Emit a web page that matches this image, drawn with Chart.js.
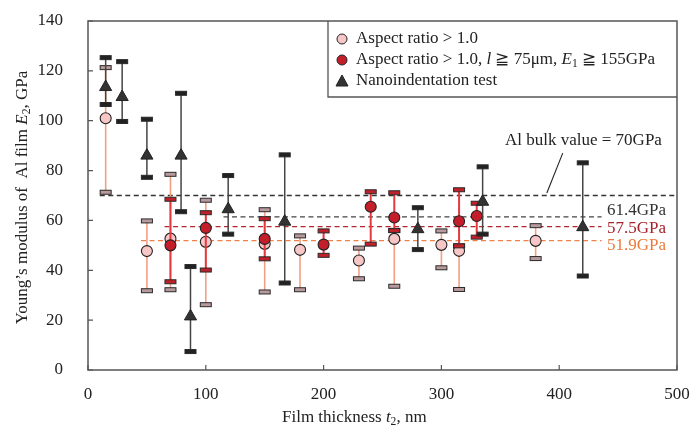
<!DOCTYPE html>
<html>
<head>
<meta charset="utf-8">
<script src="https://cdn.jsdelivr.net/npm/chart.js@4.4.0/dist/chart.umd.min.js"></script>
<style>
  body { margin: 0; background: #fff; }
  #wrap { width: 692px; height: 429px; }
</style>
</head>
<body>
<div id="wrap"><canvas id="YoungsModulus"></canvas></div>
<script>
// Data block - Aspect ratio > 1.0
const pinkX  = [15, 50, 70, 100, 150, 180, 230, 260, 300, 315, 380];
const pinkY  = [101, 47.7, 52.7, 51.4, 50.6, 48.2, 43.9, 52.6, 50.2, 47.8, 51.8];
const pinkLo = [71.3, 31.8, 32.2, 26.2, 31.3, 32.2, 36.6, 33.6, 41, 32.3, 44.7];
const pinkHi = [121.3, 59.8, 78.5, 68.1, 64.3, 53.8, 48.9, 56, 55.8, 49.8, 57.9];

// Aspect ratio > 1.0, l >= 75um, E1 >= 155GPa
const redX  = [70, 100, 150, 200, 240, 260, 315, 330];
const redY  = [50, 57, 52.6, 50.3, 65.5, 61.2, 59.7, 61.8];
const redLo = [35.4, 40.1, 44.6, 46, 50.5, 55.9, 49.8, 53.3];
const redHi = [68.5, 63.1, 60.7, 55.8, 71.5, 71.1, 72.3, 66.9];

// Nanoindentation test
const triX  = [15, 29, 50, 79, 87, 119, 167, 280, 335, 420];
const triY  = [113.5, 109.5, 86, 86, 21.5, 64.5, 59.5, 56.5, 67.5, 57.3];
const triLo = [106.5, 99.7, 77.3, 63.5, 7.4, 54.5, 34.9, 48.3, 54.5, 37.7];
const triHi = [125.3, 123.7, 100.6, 111, 41.5, 78, 86.3, 65.1, 81.5, 83.1];

// Reference lines (GPa) and their x extents
const refValues = [70, 61.4, 57.5, 51.9];
const refStart  = [10, 115, 65, 45];
const refEnd    = [500, 436, 436, 436];
const refColors = ['#333333', '#444444', '#b3262e', '#ef8048'];
const refLabels = ['', '61.4GPa', '57.5GPa', '51.9GPa'];
const refLabelY = [0, 63.8, 56.6, 50];
const labelColors = ['#222222', '#333333', '#a8222b', '#ea7a3c'];

// Axis ticks
const xTicks = [0, 100, 200, 300, 400, 500];
const yTicks = [0, 20, 40, 60, 80, 100, 120, 140];

const SERIF = '"Liberation Serif", "Times New Roman", serif';

function toPoints(xs, ys) {
    return xs.map((x, i) => ({ x: x, y: ys[i] }));
}

// Draw text made of runs (italic / subscript), left aligned, middle baseline
function runsWidth(ctx, runs, size) {
    let w = 0;
    runs.forEach(r => {
        ctx.font = (r.italic ? 'italic ' : '') + (r.sub ? size * 0.68 : size) + 'px ' + SERIF;
        w += ctx.measureText(r.t).width;
    });
    return w;
}
function drawRuns(ctx, runs, x, y, size, color) {
    ctx.fillStyle = color;
    ctx.textBaseline = 'middle';
    ctx.textAlign = 'left';
    let cx = x;
    runs.forEach(r => {
        ctx.font = (r.italic ? 'italic ' : '') + (r.sub ? size * 0.68 : size) + 'px ' + SERIF;
        ctx.fillText(r.t, cx, y + (r.sub ? size * 0.25 : 0));
        cx += ctx.measureText(r.t).width;
    });
}

// Error bar plugin block
const errorBars = {
    id: 'errorBars',
    beforeDatasetDraw(chart, args) {
        const ds = chart.data.datasets[args.index];
        if (!ds.errLo) return;
        const ctx = chart.ctx;
        const xs = chart.scales.x, ys = chart.scales.y;
        ctx.save();
        ds.data.forEach((p, i) => {
            const px = xs.getPixelForValue(p.x);
            const lo = ys.getPixelForValue(ds.errLo[i]);
            const hi = ys.getPixelForValue(ds.errHi[i]);
            ctx.strokeStyle = ds.errColor;
            ctx.lineWidth = ds.errWidth;
            ctx.beginPath();
            ctx.moveTo(px, lo);
            ctx.lineTo(px, hi);
            ctx.stroke();
            [lo, hi].forEach(cy => {
                ctx.fillStyle = ds.capFill;
                ctx.strokeStyle = '#2a2a2a';
                ctx.lineWidth = 1;
                ctx.fillRect(px - 5.5, cy - 2, 11, 4);
                ctx.strokeRect(px - 5.5, cy - 2, 11, 4);
            });
        });
        ctx.restore();
    }
};

// Reference lines, frame, ticks, titles and legend
const decorations = {
    id: 'decorations',
    beforeDatasetsDraw(chart) {
        const ctx = chart.ctx;
        const xs = chart.scales.x, ys = chart.scales.y;
        ctx.save();
        ctx.setLineDash([5, 3.5]);
        ctx.lineWidth = 1.3;
        refValues.forEach((v, i) => {
            const py = ys.getPixelForValue(v);
            ctx.strokeStyle = refColors[i];
            ctx.beginPath();
            ctx.moveTo(xs.getPixelForValue(refStart[i]), py);
            ctx.lineTo(xs.getPixelForValue(refEnd[i]), py);
            ctx.stroke();
        });
        ctx.setLineDash([]);
        // Leader line for Al bulk value
        ctx.strokeStyle = '#222';
        ctx.lineWidth = 1.1;
        ctx.beginPath();
        ctx.moveTo(xs.getPixelForValue(389.5), ys.getPixelForValue(71));
        ctx.lineTo(xs.getPixelForValue(403), ys.getPixelForValue(87));
        ctx.stroke();
        ctx.restore();
    },
    afterDraw(chart) {
        const ctx = chart.ctx;
        const a = chart.chartArea;
        const xs = chart.scales.x, ys = chart.scales.y;
        ctx.save();
        // Frame
        ctx.strokeStyle = '#555';
        ctx.lineWidth = 1.5;
        ctx.strokeRect(a.left, a.top, a.right - a.left, a.bottom - a.top);
        // Inward ticks
        ctx.lineWidth = 1.2;
        ctx.beginPath();
        xTicks.forEach(v => {
            const px = xs.getPixelForValue(v);
            ctx.moveTo(px, a.bottom);
            ctx.lineTo(px, a.bottom - 5);
        });
        yTicks.forEach(v => {
            const py = ys.getPixelForValue(v);
            ctx.moveTo(a.left, py);
            ctx.lineTo(a.left + 5, py);
        });
        ctx.stroke();

        // Text labels
        drawRuns(ctx, [{ t: 'Al bulk value = 70GPa' }], 505, ys.getPixelForValue(91.9), 17, '#222');
        refLabels.forEach((t, i) => {
            if (!t) return;
            drawRuns(ctx, [{ t: t }], xs.getPixelForValue(440.6), ys.getPixelForValue(refLabelY[i]), 17, labelColors[i]);
        });

        // X axis title
        const xRuns = [{ t: 'Film thickness ' }, { t: 't', italic: true }, { t: '2', sub: true }, { t: ', nm' }];
        drawRuns(ctx, xRuns, 282, 418, 17, '#222');

        // Y axis title (rotated)
        const yRuns = [{ t: 'Young\u2019s modulus of  Al film ' }, { t: 'E', italic: true }, { t: '2', sub: true }, { t: ', GPa' }];
        const yw = runsWidth(ctx, yRuns, 17);
        ctx.save();
        ctx.translate(22.5, 197.5);
        ctx.rotate(-Math.PI / 2);
        drawRuns(ctx, yRuns, -yw / 2, 0, 17, '#222');
        ctx.restore();

        // Legend box
        ctx.strokeStyle = '#555';
        ctx.lineWidth = 1.3;
        ctx.beginPath();
        ctx.moveTo(328, a.top);
        ctx.lineTo(328, 97);
        ctx.lineTo(a.right, 97);
        ctx.stroke();

        const rows = [39, 60, 81];
        const mx = 342;
        ctx.lineWidth = 1;
        ctx.strokeStyle = '#222';
        ctx.fillStyle = '#f7c6c7';
        ctx.beginPath(); ctx.arc(mx, rows[0], 5, 0, Math.PI * 2); ctx.fill(); ctx.stroke();
        ctx.fillStyle = '#c41e2a';
        ctx.beginPath(); ctx.arc(mx, rows[1], 5, 0, Math.PI * 2); ctx.fill(); ctx.stroke();
        ctx.fillStyle = '#333';
        ctx.beginPath();
        ctx.moveTo(mx, rows[2] - 6);
        ctx.lineTo(mx + 6, rows[2] + 5);
        ctx.lineTo(mx - 6, rows[2] + 5);
        ctx.closePath(); ctx.fill(); ctx.stroke();

        drawRuns(ctx, [{ t: 'Aspect ratio > 1.0' }], 356, rows[0], 17, '#222');
        drawRuns(ctx, [
            { t: 'Aspect ratio > 1.0, ' }, { t: 'l', italic: true }, { t: ' \u2267 75\u03bcm, ' },
            { t: 'E', italic: true }, { t: '1', sub: true }, { t: ' \u2267 155GPa' }
        ], 356, rows[1], 17, '#222');
        drawRuns(ctx, [{ t: 'Nanoindentation test' }], 356, rows[2], 17, '#222');
        ctx.restore();
    }
};

// Setup block
const modulusData = {
    datasets: [{
        label: 'Aspect ratio > 1.0',
        data: toPoints(pinkX, pinkY),
        errLo: pinkLo, errHi: pinkHi,
        errColor: '#f2a083', errWidth: 1.6, capFill: '#b89a9c',
        pointStyle: 'circle',
        pointRadius: 5.5,
        backgroundColor: '#f7c6c7',
        borderColor: '#222',
        borderWidth: 1.1,
        order: 3
    }, {
        label: 'Aspect ratio > 1.0, l >= 75um, E1 >= 155GPa',
        data: toPoints(redX, redY),
        errLo: redLo, errHi: redHi,
        errColor: '#e5383f', errWidth: 2, capFill: '#c0202a',
        pointStyle: 'circle',
        pointRadius: 5.5,
        backgroundColor: '#c41e2a',
        borderColor: '#222',
        borderWidth: 1.1,
        order: 2
    }, {
        label: 'Nanoindentation test',
        data: toPoints(triX, triY),
        errLo: triLo, errHi: triHi,
        errColor: '#444', errWidth: 1.5, capFill: '#222',
        pointStyle: 'triangle',
        pointRadius: 7,
        backgroundColor: '#333',
        borderColor: '#222',
        borderWidth: 1,
        order: 1
    }]
};

// Config block
const modulusConfig = {
    type: 'scatter',
    data: modulusData,
    options: {
        responsive: true,
        maintainAspectRatio: false,
        animation: false,
        layout: { padding: { top: 21, right: 15, left: 0, bottom: 0 } },
        plugins: {
            legend: { display: false },
            tooltip: { enabled: false }
        },
        scales: {
            x: {
                type: 'linear',
                min: 0, max: 500,
                afterFit(scale) {
                    scale.height = 59;
                    scale.paddingLeft = 0;
                    scale.paddingRight = 0;
                },
                afterBuildTicks(scale) { scale.ticks = xTicks.map(v => ({ value: v })); },
                ticks: { padding: 14, color: '#222', font: { family: SERIF, size: 17 } },
                grid: { display: false, drawTicks: false },
                border: { display: false }
            },
            y: {
                min: 0, max: 140,
                afterFit(scale) {
                    scale.width = 88;
                    scale.paddingTop = 0;
                    scale.paddingBottom = 0;
                },
                afterBuildTicks(scale) { scale.ticks = yTicks.map(v => ({ value: v })); },
                ticks: { padding: 25, color: '#222', font: { family: SERIF, size: 17 } },
                grid: { display: false, drawTicks: false },
                border: { display: false }
            }
        }
    },
    plugins: [errorBars, decorations]
};

// render / init block
const modulusChart = new Chart(
    document.getElementById('YoungsModulus'),
    modulusConfig
);
</script>
</body>
</html>
